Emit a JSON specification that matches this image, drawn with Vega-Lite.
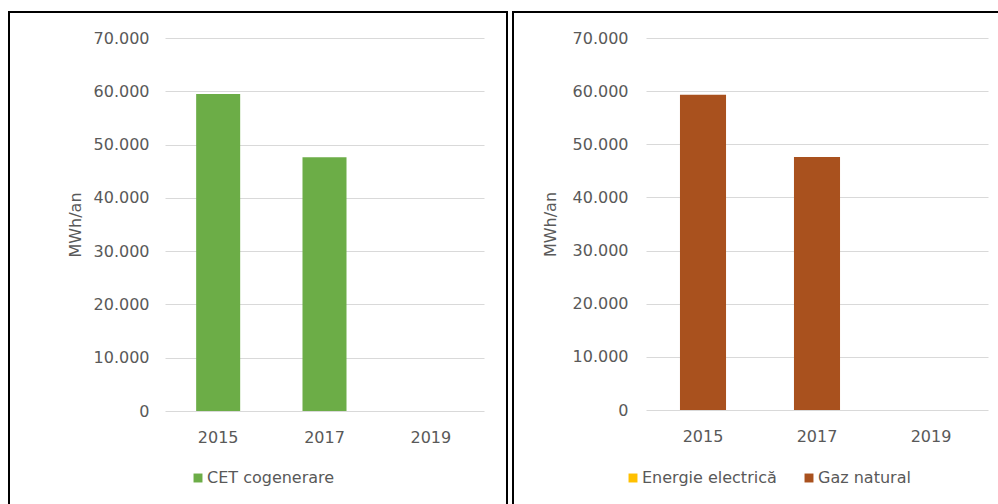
{
  "$schema": "https://vega.github.io/schema/vega-lite/v6.json",
  "padding": {"left": 8, "top": 11, "right": 0, "bottom": 0},
  "spacing": 4,
  "resolve": {"scale": {"color": "independent"}, "legend": {"color": "independent"}},
  "config": {
    "font": "DejaVu Sans",
    "view": {"stroke": "#000000", "strokeWidth": 2},
    "axis": {
      "labelFont": "DejaVu Sans",
      "titleFont": "DejaVu Sans",
      "labelFontSize": 16,
      "titleFontSize": 16,
      "titleFontWeight": "normal",
      "labelColor": "#595959",
      "titleColor": "#595959",
      "gridColor": "#d9d9d9",
      "gridWidth": 1,
      "domain": false,
      "ticks": false
    },
    "legend": {
      "labelFont": "DejaVu Sans",
      "labelFontSize": 16,
      "labelColor": "#595959",
      "symbolType": "square",
      "symbolSize": 80,
      "symbolStrokeWidth": 0,
      "labelOffset": 1,
      "direction": "horizontal",
      "orient": "none"
    }
  },
  "hconcat": [
    {
      "width": 498,
      "height": 494,
      "data": {
        "values": [
          {"year": "2015", "series": "CET cogenerare", "value": 59500},
          {"year": "2017", "series": "CET cogenerare", "value": 47600},
          {"year": "2019", "series": "CET cogenerare", "value": 0}
        ]
      },
      "mark": {"type": "bar"},
      "encoding": {
        "x": {
          "field": "year",
          "type": "nominal",
          "scale": {"range": [156, 475], "paddingInner": 0.586, "paddingOuter": 0.293},
          "axis": {"title": null, "labelAngle": 0, "offset": -95, "labelPadding": 18, "grid": false}
        },
        "y": {
          "field": "value",
          "type": "quantitative",
          "scale": {"domain": [0, 70000], "range": [399, 26], "nice": false},
          "axis": {
            "title": "MWh/an",
            "values": [0, 10000, 20000, 30000, 40000, 50000, 60000, 70000],
            "labelExpr": "replace(format(datum.value, ',.0f'), ',', '.')",
            "offset": -148,
            "labelPadding": 8,
            "titlePadding": 10
          }
        },
        "color": {
          "field": "series",
          "type": "nominal",
          "scale": {"domain": ["CET cogenerare"], "range": ["#6cad47"]},
          "legend": {"title": null, "legendX": 181, "legendY": 458}
        }
      }
    },
    {
      "width": 490,
      "height": 494,
      "data": {
        "values": [
          {"year": "2015", "series": "Energie electrică", "value": 0},
          {"year": "2017", "series": "Energie electrică", "value": 0},
          {"year": "2019", "series": "Energie electrică", "value": 0},
          {"year": "2015", "series": "Gaz natural", "value": 59300},
          {"year": "2017", "series": "Gaz natural", "value": 47600},
          {"year": "2019", "series": "Gaz natural", "value": 0}
        ]
      },
      "mark": {"type": "bar"},
      "encoding": {
        "x": {
          "field": "year",
          "type": "nominal",
          "scale": {"range": [133, 475], "paddingInner": 0.596, "paddingOuter": 0.298},
          "axis": {"title": null, "labelAngle": 0, "offset": -96, "labelPadding": 18, "grid": false}
        },
        "y": {
          "field": "value",
          "type": "quantitative",
          "stack": "zero",
          "scale": {"domain": [0, 70000], "range": [398, 26], "nice": false},
          "axis": {
            "title": "MWh/an",
            "values": [0, 10000, 20000, 30000, 40000, 50000, 60000, 70000],
            "labelExpr": "replace(format(datum.value, ',.0f'), ',', '.')",
            "offset": -123,
            "labelPadding": 8,
            "titlePadding": 14
          }
        },
        "color": {
          "field": "series",
          "type": "nominal",
          "scale": {"domain": ["Energie electrică", "Gaz natural"], "range": ["#ffc000", "#a9511e"]},
          "legend": {"title": null, "legendX": 112, "legendY": 458, "columnPadding": 24}
        },
        "order": {"field": "series", "sort": "ascending"}
      }
    }
  ]
}
